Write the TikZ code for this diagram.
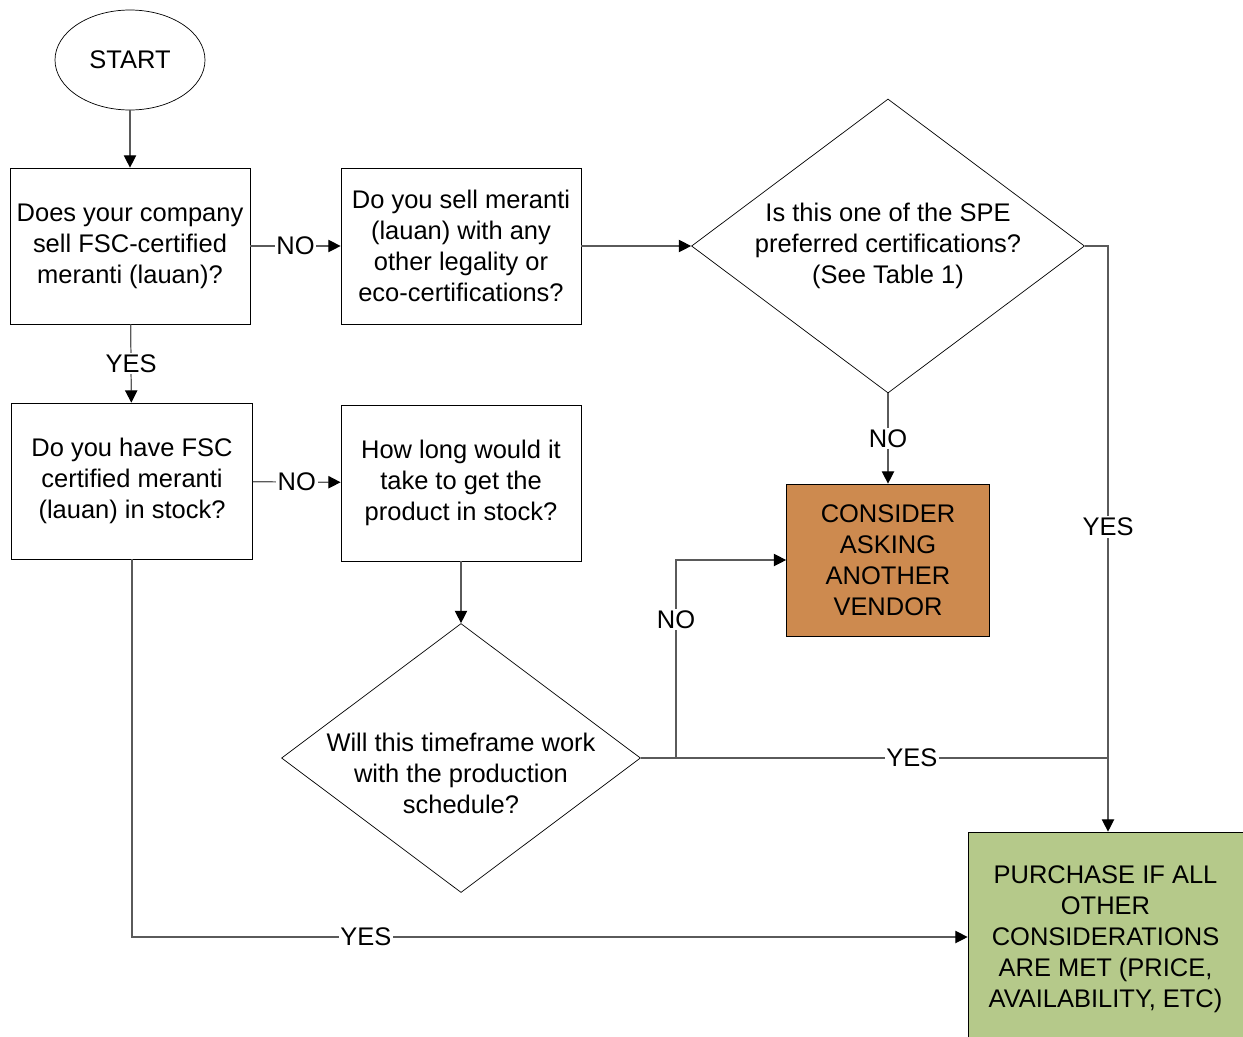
\documentclass[tikz,border=0pt]{standalone}
\usepackage{fontspec}
\setmainfont{Liberation Sans}
\usetikzlibrary{shapes.geometric,arrows.meta}
\definecolor{vendorfill}{HTML}{CD8A4F}
\definecolor{buyfill}{HTML}{B5C98A}
\definecolor{linegray}{HTML}{5A5A5A}
\newcommand{\droptext}[2]{\raisebox{#1}[0pt][0pt]{\begin{tabular}{@{}c@{}}#2\end{tabular}}}
\begin{document}
\begin{tikzpicture}[
    font=\fontsize{14.5}{17.6}\selectfont,
    step box/.style={draw, rectangle, align=center, minimum width=4.8cm, minimum height=3.12cm, inner sep=2pt},
    choice/.style={draw, diamond, aspect=1.34, align=center, inner sep=0pt},
    flow/.style={draw=linegray, line width=0.7pt, -{Triangle[length=7pt, width=7pt, black]}},
    link/.style={draw=linegray, line width=0.7pt},
    lbl/.style={fill=white, inner sep=1pt}
]
\useasboundingbox (0,0) rectangle (24.86,-20.72);

% Start
\node[draw, ellipse, minimum width=3cm, minimum height=2cm] (start) at (2.6,-1.2) {START};

% First row
\node[step box] (fsc) at (2.6,-4.92) {Does your company\\sell FSC-certified\\meranti (lauan)?};
\node[step box] (other) at (9.22,-4.92) {Do you sell meranti\\(lauan) with any\\other legality or\\eco-certifications?};
\node[choice, minimum width=7.86cm, minimum height=5.88cm] (spe) at (17.76,-4.92) {Is this one of the SPE\\preferred certifications?\\(See Table 1)};

% Second row
\node[step box, minimum width=4.82cm] (stock) at (2.64,-9.62) {Do you have FSC\\certified meranti\\(lauan) in stock?};
\node[step box] (howlong) at (9.22,-9.66) {How long would it\\take to get the\\product in stock?};
\node[draw, fill=vendorfill, align=center, minimum width=4.06cm, minimum height=3.04cm] (vendor) at (17.76,-11.2) {CONSIDER\\ASKING\\ANOTHER\\VENDOR};

% Lower part
\node[choice, minimum width=7.18cm, minimum height=5.38cm] (time) at (9.22,-15.16) {\droptext{-0.5cm}{Will this timeframe work\\with the production\\schedule?}};
\node[draw, fill=buyfill, align=center, minimum width=5.5cm, minimum height=4.3cm] (buy) at (22.11,-18.79) {PURCHASE IF ALL\\OTHER\\CONSIDERATIONS\\ARE MET (PRICE,\\AVAILABILITY, ETC)};

% Helper points
\coordinate (spe-r) at (22.16,-4.92);
\coordinate (time-up) at (13.52,-15.16);
\coordinate (time-v) at (13.52,-11.2);
\coordinate (join) at (22.16,-15.16);
\coordinate (stock-d) at (2.64,-18.74);

% Connectors
\draw[flow] (start) -- (fsc);
\draw[flow] (fsc) -- node[lbl] {NO} (other);
\draw[flow] (other) -- (spe);
\draw[flow] (fsc) -- node[lbl] {YES} (stock);
\draw[flow] (stock) -- node[lbl] {NO} (howlong);
\draw[flow] (howlong) -- (time);
\draw[flow] (spe) -- node[lbl] {NO} (vendor);
\draw[flow] (spe.east) -- (spe-r) -- node[lbl, pos=0.48] {YES} (buy.north -| spe-r);
\draw[flow] (time.east) -- (time-up) -- node[lbl, pos=0.7] {NO} (time-v) -- (vendor.west);
\draw[link] (time.east) -- node[lbl, pos=0.58] {YES} (join);
\draw[flow] (stock) -- (stock-d) -- node[lbl, pos=0.28] {YES} (buy.west |- stock-d);

\end{tikzpicture}
\end{document}
